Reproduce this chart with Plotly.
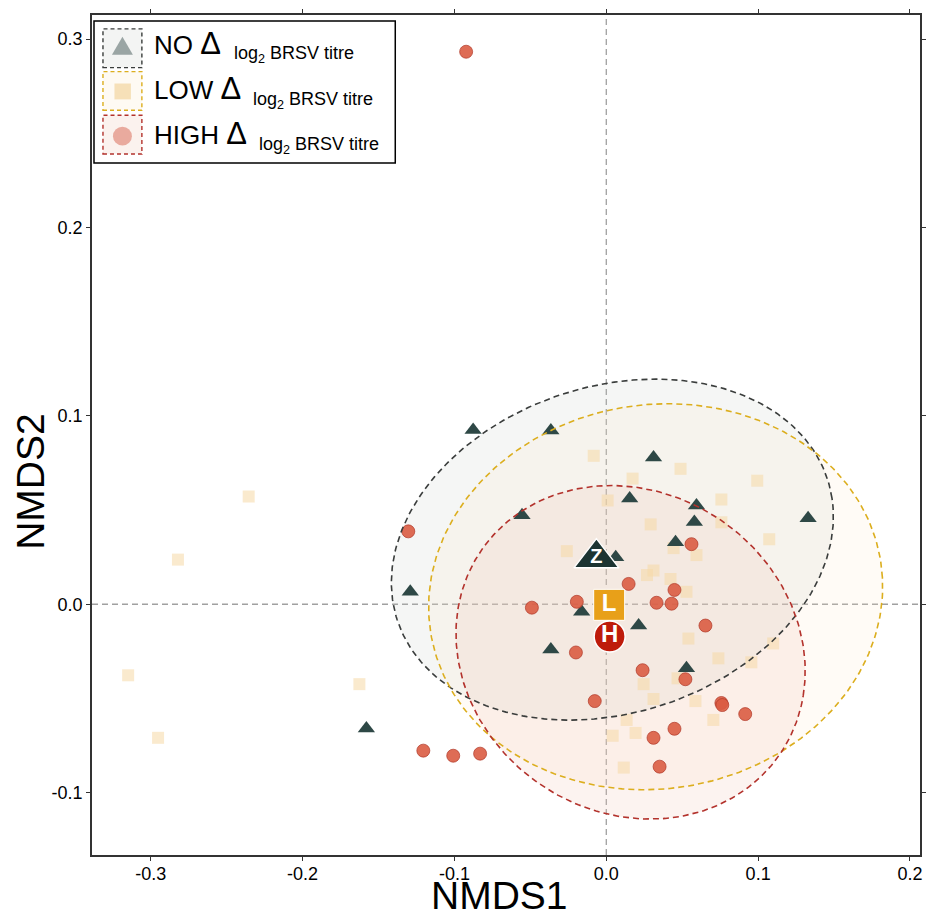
import numpy as np
import plotly.graph_objects as go

# NO group (triangles)
no_x = [-0.0877, -0.0365, 0.0311, -0.0555, 0.0154, 0.0594, 0.0580, 0.0456, 0.1329,
        -0.1291, 0.0062, -0.0162, 0.0213, -0.0365, 0.0528, -0.1580]
no_y = [0.0925, 0.0923, 0.0779, 0.0472, 0.0561, 0.0524, 0.0437, 0.0329, 0.0456,
        0.0066, 0.0250, -0.0040, -0.0113, -0.0240, -0.0340, -0.0660]

# LOW group (squares)
low_x = [-0.2355, -0.2821, -0.3149, -0.2952, -0.1626,
         -0.0083, 0.0173, 0.0489, 0.0009, 0.0292, -0.0260,
         0.0268, 0.0311, 0.0423, 0.0443, 0.0594, 0.0528,
         0.0758, 0.0758, 0.0994, 0.1073,
         0.0541, 0.1099, 0.0738, 0.0955, 0.0469, 0.0246, 0.0311, 0.0587,
         0.0705, 0.0134, 0.0193, 0.0042, 0.0115]
low_y = [0.0572, 0.0237, -0.0377, -0.0709, -0.0424,
         0.0788, 0.0667, 0.0719, 0.0551, 0.0424, 0.0282,
         0.0155, 0.0179, 0.0134, 0.0298, 0.0261, 0.0066,
         0.0556, 0.0435, 0.0656, 0.0345,
         -0.0182, -0.0208, -0.0287, -0.0308, -0.0393, -0.0424, -0.0503, -0.0514,
         -0.0614, -0.0614, -0.0683, -0.0698, -0.0867]

# HIGH group (circles)
high_x = [-0.0923, -0.1304, -0.0490, -0.0194, -0.0200, 0.0239, -0.0076, 0.0331,
          0.0430, 0.0449, 0.0147, 0.0311, 0.0449, 0.0351, -0.1205, -0.1008,
          -0.0831, 0.0561, 0.0653, 0.0521, 0.0758, 0.0764, 0.0915]
high_y = [0.2933, 0.0387, -0.0018, 0.0013, -0.0256, -0.0350, -0.0514, 0.0008,
          0.0003, 0.0076, 0.0108, -0.0709, -0.0661, -0.0862, -0.0777, -0.0804,
          -0.0793, 0.0319, -0.0113, -0.0398, -0.0524, -0.0535, -0.0583]

# group centroids
cen_label = ["Z", "L", "H"]
cen_x = [-0.0065, 0.0019, 0.0022]
cen_y = [0.0245, -0.0003, -0.0171]

# ellipse parameters (NO, LOW, HIGH): centre, semi-axes, rotation in degrees
ell_cx = [0.004, 0.0325, 0.016]
ell_cy = [0.029, 0.004, -0.0255]
ell_a = [0.1472, 0.1497, 0.116]
ell_b = [0.0878, 0.1022, 0.0872]
ell_ang = [10.7, 3.9, -11.5]

line_cols = ["#3a3d3c", "#dcae1e", "#b3322c"]
fill_cols = ["rgba(195,200,195,0.16)", "rgba(252,228,196,0.16)", "rgba(238,196,178,0.2)"]

FONT = "Liberation Sans, Arial, sans-serif"
W, H = 935, 919
L, R, T, B = 92, 922, 9, 855


def ellipse(cx, cy, a, b, ang):
    t = np.linspace(0, 2 * np.pi, 300)
    th = np.radians(ang)
    x = cx + a * np.cos(th) * np.cos(t) - b * np.sin(th) * np.sin(t)
    y = cy + a * np.sin(th) * np.cos(t) + b * np.cos(th) * np.sin(t)
    return x, y


def px(x):
    return (x - L) / (R - L)


def py(y):
    return (B - y) / (B - T)


fig = go.Figure()

# ellipse fills
for i in range(3):
    ex, ey = ellipse(ell_cx[i], ell_cy[i], ell_a[i], ell_b[i], ell_ang[i])
    fig.add_trace(go.Scatter(x=ex, y=ey, mode="lines", fill="toself",
                             fillcolor=fill_cols[i], line=dict(width=0),
                             hoverinfo="skip", showlegend=False))

# points
fig.add_trace(go.Scatter(x=low_x, y=low_y, mode="markers",
                         marker=dict(symbol="square", size=12,
                                     color="rgba(245,216,165,0.55)", line=dict(width=0)),
                         showlegend=False))
fig.add_trace(go.Scatter(x=no_x, y=no_y, mode="markers",
                         marker=dict(symbol="triangle-up", size=15,
                                     color="rgb(46,72,70)", line=dict(width=0)),
                         showlegend=False))
fig.add_trace(go.Scatter(x=high_x, y=high_y, mode="markers",
                         marker=dict(symbol="circle", size=13,
                                     color="rgba(218,92,66,0.9)",
                                     line=dict(width=1, color="rgba(175,55,40,0.7)")),
                         showlegend=False))

# ellipse outlines
for i in range(3):
    ex, ey = ellipse(ell_cx[i], ell_cy[i], ell_a[i], ell_b[i], ell_ang[i])
    fig.add_trace(go.Scatter(x=ex, y=ey, mode="lines",
                             line=dict(color=line_cols[i], width=1.6, dash="6px,4px"),
                             hoverinfo="skip", showlegend=False))

# centroids
fig.add_trace(go.Scatter(x=[cen_x[0]], y=[cen_y[0]], mode="markers+text",
                         text=["<b>Z</b>"], textposition="middle center",
                         textfont=dict(color="white", size=20, family=FONT),
                         marker=dict(symbol="triangle-up", size=39, color="rgb(28,52,50)",
                                     line=dict(width=1.5, color="white")),
                         showlegend=False))
fig.add_trace(go.Scatter(x=[cen_x[1]], y=[cen_y[1]], mode="markers+text",
                         text=["<b>L</b>"], textposition="middle center",
                         textfont=dict(color="white", size=24, family=FONT),
                         marker=dict(symbol="square", size=31, color="rgb(232,160,25)",
                                     line=dict(width=1, color="white")),
                         showlegend=False))
fig.add_trace(go.Scatter(x=[cen_x[2]], y=[cen_y[2]], mode="markers+text",
                         text=["<b>H</b>"], textposition="middle center",
                         textfont=dict(color="white", size=24, family=FONT),
                         marker=dict(symbol="circle", size=31, color="rgb(190,27,10)",
                                     line=dict(width=1.5, color="white")),
                         showlegend=False))

shapes = [
    dict(type="line", xref="x", yref="y domain", x0=0, x1=0, y0=0, y1=1,
         line=dict(color="#a0a0a0", width=1.3, dash="6px,4px"), layer="below"),
    dict(type="line", xref="x domain", yref="y", x0=0, x1=1, y0=0, y1=0,
         line=dict(color="#a0a0a0", width=1.3, dash="6px,4px"), layer="below"),
]

# legend drawn by hand
shapes.append(dict(type="rect", xref="paper", yref="paper",
                   x0=px(94), x1=px(396), y0=py(158), y1=py(15),
                   line=dict(color="black", width=1.5), fillcolor="white"))
key_top = [23, 66, 110]
key_fill = ["#f3f4f3", "#fefaf3", "#fbf2ee"]
for i in range(3):
    shapes.append(dict(type="rect", xref="paper", yref="paper",
                       x0=px(103), x1=px(142), y0=py(key_top[i] + 39), y1=py(key_top[i]),
                       line=dict(color=line_cols[i], width=1.4, dash="4px,3px"),
                       fillcolor=key_fill[i]))
shapes.append(dict(type="path", xref="paper", yref="paper",
                   path=f"M {px(112)} {py(49)} L {px(133)} {py(49)} L {px(122.5)} {py(31)} Z",
                   line=dict(width=0), fillcolor="#9aa5a4"))
shapes.append(dict(type="rect", xref="paper", yref="paper",
                   x0=px(114.5), x1=px(131), y0=py(94), y1=py(78),
                   line=dict(width=0), fillcolor="#f6e0b8"))
shapes.append(dict(type="circle", xref="paper", yref="paper",
                   x0=px(113), x1=px(132), y0=py(140.5), y1=py(121.5),
                   line=dict(width=0), fillcolor="#e9aa9e"))

leg_main = ["NO", "LOW", "HIGH"]
leg_main_y = [38, 83, 128]
leg_sub_x = [232, 251, 257]
leg_sub_y = [49, 95, 140]
annotations = []
for i in range(3):
    annotations.append(dict(xref="paper", yref="paper", x=px(152), y=py(leg_main_y[i]),
                            xanchor="left", yanchor="middle", showarrow=False,
                            text=leg_main[i] + " <span style='font-size:31px'>Δ</span>",
                            font=dict(size=26, color="black", family=FONT)))
    annotations.append(dict(xref="paper", yref="paper", x=px(leg_sub_x[i]), y=py(leg_sub_y[i]),
                            xanchor="left", yanchor="middle", showarrow=False,
                            text="log<sub>2</sub> BRSV titre",
                            font=dict(size=18, color="black", family=FONT)))

# axis titles
annotations.append(dict(xref="paper", yref="paper", x=px(500), y=py(896),
                        xanchor="center", yanchor="middle", showarrow=False,
                        text="NMDS1", font=dict(size=39, color="black", family=FONT)))
annotations.append(dict(xref="paper", yref="paper", x=px(31), y=py(479),
                        xanchor="center", yanchor="middle", showarrow=False, textangle=-90,
                        text="NMDS2", font=dict(size=39, color="black", family=FONT)))

axis_common = dict(showgrid=False, zeroline=False, showline=True, linecolor="#333333",
                   linewidth=1.5, mirror="ticks", ticks="outside", ticklen=4,
                   tickcolor="#333333", tickwidth=1,
                   tickfont=dict(size=18, color="black", family=FONT))

fig.update_layout(
    width=W, height=H,
    margin=dict(l=L, r=W - R, t=T, b=H - B),
    plot_bgcolor="white", paper_bgcolor="white",
    xaxis=dict(range=[-0.3387, 0.2066], tickvals=[-0.3, -0.2, -0.1, 0.0, 0.1, 0.2],
               ticktext=["-0.3", "-0.2", "-0.1", "0.0", "0.1", "0.2"],
               ticklabelstandoff=-2, **axis_common),
    yaxis=dict(range=[-0.1331, 0.3128], tickvals=[-0.1, 0.0, 0.1, 0.2, 0.3],
               ticktext=["-0.1", "0.0", "0.1", "0.2", "0.3"], **axis_common),
    shapes=shapes,
    annotations=annotations,
    showlegend=False,
)

# page body has a default margin; drop it so the figure sits at the window corner
fig.write_html("out.html", config={"displayModeBar": False},
               post_script="document.body.style.margin='0';")
